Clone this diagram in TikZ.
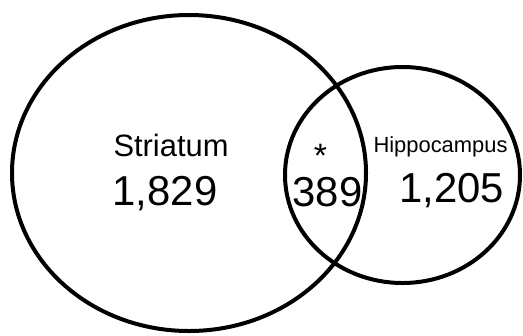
\documentclass[tikz,border=0pt]{standalone}
\usepackage{fontspec}
\setmainfont{Liberation Sans}
\begin{document}
\begin{tikzpicture}[x=1bp,y=-1bp,
  ring/.style={draw=black,line width=4bp},
  big/.style={font=\fontsize{42}{48}\selectfont,inner sep=0pt,anchor=base},
  star/.style={font=\fontsize{34}{40}\selectfont,inner sep=0pt,anchor=base},
  mid/.style={font=\fontsize{31}{36}\selectfont,inner sep=0pt,anchor=base},
  small/.style={font=\fontsize{22}{26}\selectfont,inner sep=0pt,anchor=base}]
\useasboundingbox (0,0) rectangle (523,335);
\draw[ring] (189,173) ellipse [x radius=177, y radius=158];
\draw[ring] (402.5,175) ellipse [x radius=117.5, y radius=108];
\node[mid] (str) at (171,156) {Striatum};
\node[big] (n1) at (165,205) {1,829};
\node[star] (ast) at (320.5,167) {\smash{*}};
\node[big] (n2) at (327.5,206.5) {389};
\node[small] (hip) at (440.5,152) {Hippocampus};
\node[big] (n3) at (451.5,202) {1,205};
\end{tikzpicture}
\end{document}
